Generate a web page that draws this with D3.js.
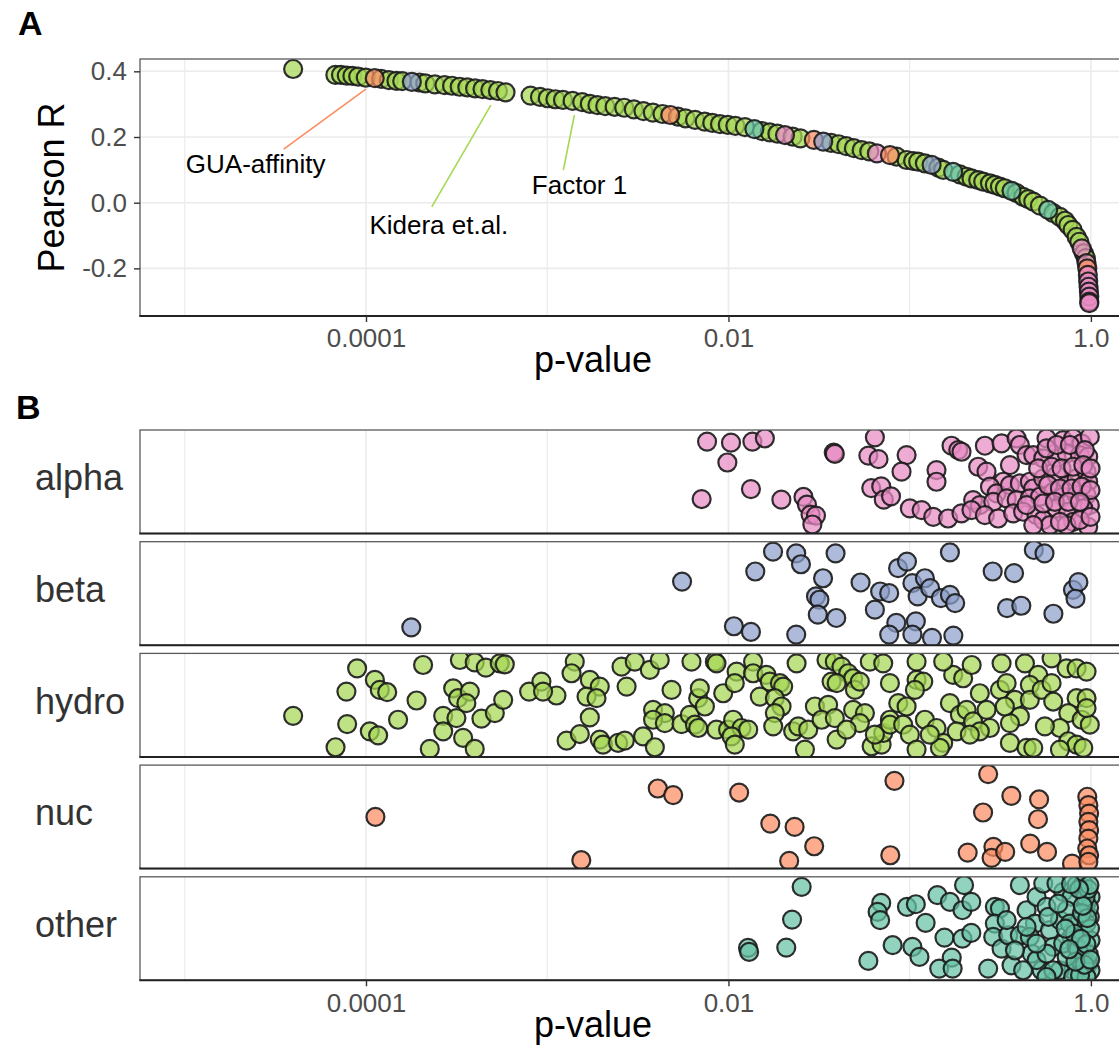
<!DOCTYPE html>
<html><head><meta charset="utf-8">
<script src="https://cdn.jsdelivr.net/npm/d3@7"></script>
<style>body{margin:0;background:#fff}svg{display:block}</style>
</head><body>
<svg id="c" width="1119" height="1049"></svg>
<script>
// ---------- data ----------
const categories = ["alpha", "beta", "hydro", "nuc", "other"];
const catColors = ["#E78AC3", "#8DA0CB", "#A6D854", "#FC8D62", "#66C2A5"];
const xTickValues = [1e-4, 1e-2, 1];
const xTickLabels = ["0.0001", "0.01", "1.0"];
const xMinorValues = [1e-5, 1e-3, 1e-1];
const yTickValues = [-0.2, 0, 0.2, 0.4];
const yTickLabels = ["-0.2", "0.0", "0.2", "0.4"];

// Panel A: [log10(p-value), Pearson R, category index]
const curvePts = [
[-4.402,0.407,2],[-4.169,0.389,2],[-4.138,0.389,2],[-4.106,0.387,2],[-4.075,0.386,2],[-4.043,0.384,2],
[-4.001,0.381,2],[-3.952,0.379,3],[-3.916,0.377,2],[-3.874,0.373,2],[-3.832,0.371,2],[-3.800,0.370,2],
[-3.747,0.368,1],[-3.705,0.366,2],[-3.673,0.363,2],[-3.620,0.360,2],[-3.567,0.358,2],[-3.525,0.356,2],
[-3.483,0.353,2],[-3.441,0.351,2],[-3.398,0.348,2],[-3.357,0.346,2],[-3.314,0.343,2],[-3.272,0.340,2],
[-3.230,0.336,2],[-3.092,0.326,2],[-3.040,0.322,2],[-2.997,0.318,2],[-2.955,0.315,2],[-2.913,0.313,2],
[-2.860,0.310,2],[-2.807,0.306,2],[-2.765,0.301,2],[-2.723,0.297,2],[-2.680,0.294,2],[-2.628,0.292,2],
[-2.575,0.289,2],[-2.522,0.284,2],[-2.469,0.279,2],[-2.417,0.274,2],[-2.364,0.270,2],[-2.321,0.267,3],
[-2.279,0.262,2],[-2.237,0.257,2],[-2.184,0.252,2],[-2.131,0.247,2],[-2.089,0.243,2],[-2.047,0.239,2],
[-2.004,0.237,2],[-1.962,0.234,2],[-1.909,0.230,2],[-1.857,0.224,4],[-1.815,0.218,2],[-1.772,0.214,2],
[-1.730,0.210,2],[-1.688,0.206,0],[-1.646,0.201,2],[-1.603,0.196,2],[-1.529,0.191,3],[-1.477,0.186,1],
[-1.434,0.182,2],[-1.392,0.178,2],[-1.350,0.172,2],[-1.308,0.166,2],[-1.265,0.160,2],[-1.223,0.156,2],
[-1.181,0.150,0],[-1.109,0.145,3],[-1.072,0.140,2],[-1.017,0.130,2],[-0.981,0.127,2],[-0.953,0.125,2],
[-0.916,0.120,2],[-0.879,0.115,1],[-0.842,0.107,2],[-0.815,0.100,2],[-0.760,0.094,4],[-0.723,0.086,2],
[-0.686,0.079,2],[-0.659,0.074,2],[-0.622,0.069,2],[-0.594,0.064,2],[-0.557,0.059,2],[-0.530,0.054,2],
[-0.502,0.049,2],[-0.475,0.044,2],[-0.438,0.036,4],[-0.410,0.029,2],[-0.374,0.018,2],[-0.346,0.011,2],
[-0.318,0.003,2],[-0.281,-0.009,2],[-0.236,-0.022,4],[-0.208,-0.032,2],[-0.171,-0.043,2],[-0.143,-0.055,2],
[-0.125,-0.068,2],[-0.101,-0.083,2],[-0.079,-0.104,2],[-0.064,-0.119,2],[-0.051,-0.139,0],[-0.039,-0.154,2],
[-0.028,-0.169,2],[-0.024,-0.184,0],[-0.020,-0.200,3],[-0.017,-0.220,0],[-0.015,-0.240,0],[-0.013,-0.256,0],
[-0.011,-0.271,0],[-0.009,-0.286,0],[-0.009,-0.301,0],[-0.009,-0.306,0]
];

// Panel A labels: [text, category, labelLogP, labelR, segStartLogP, segStartR, segEndLogP, segEndR]
const annotations = [
["GUA-affinity", 3, -4.994, 0.090, -4.454, 0.163, -4.001, 0.346],
["Kidera et.al.", 2, -3.981, -0.095, -3.637, -0.013, -3.311, 0.297],
["Factor 1", 2, -3.085, 0.026, -2.911, 0.0995, -2.850, 0.267]
];

// Panel B: per category [log10(p-value), vertical jitter 0..1]
const alphaPts = [
[-2.118,0.888],[-1.986,0.878],[-1.868,0.888],[-1.799,0.920],[-2.006,0.686],[-2.148,0.333],[-1.876,0.429],
[-1.708,0.327],[-1.586,0.353],[-1.567,0.279],[-1.547,0.183],[-1.517,0.173],[-1.537,0.087],[-1.419,0.782],
[-1.413,0.769],[-1.192,0.929],[-1.228,0.753],[-1.172,0.718],[-1.212,0.439],[-1.157,0.455],[-1.143,0.327],
[-1.103,0.359],[-1.017,0.758],[-1.045,0.597],[-0.769,0.848],[-0.732,0.806],[-0.714,0.790],[-0.852,0.613],
[-0.852,0.500],[-0.585,0.848],[-0.493,0.871],[-0.410,0.919],[-0.392,0.855],[-0.245,0.919],[-0.153,0.903],
[-0.098,0.919],[-0.052,0.871],[-0.006,0.935],[-0.622,0.645],[-0.576,0.597],[-0.447,0.661],[-0.484,0.500],
[-0.355,0.758],[-0.318,0.758],[-0.263,0.726],[-0.189,0.726],[-0.134,0.774],[-0.061,0.758],[-0.015,0.742],
[-0.557,0.452],[-0.520,0.387],[-0.447,0.468],[-0.392,0.484],[-0.337,0.500],[-0.318,0.435],[-0.263,0.532],
[-0.189,0.565],[-0.134,0.468],[-0.079,0.532],[-0.024,0.597],[-0.015,0.500],[-0.650,0.323],[-0.613,0.274],
[-0.539,0.306],[-0.465,0.339],[-0.410,0.323],[-0.337,0.339],[-0.281,0.355],[-0.208,0.403],[-0.153,0.355],
[-0.079,0.371],[-0.024,0.371],[-0.006,0.274],[-0.999,0.242],[-0.934,0.226],[-0.870,0.161],[-0.788,0.145],
[-0.714,0.194],[-0.659,0.226],[-0.585,0.177],[-0.512,0.145],[-0.429,0.194],[-0.374,0.210],[-0.300,0.177],
[-0.263,0.129],[-0.226,0.081],[-0.189,0.242],[-0.125,0.210],[-0.098,0.113],[-0.042,0.242],[-0.015,0.065],
[-0.134,0.081],
[-0.245,0.823],[-0.189,0.855],[-0.116,0.855],[-0.033,0.806],[-0.291,0.629],[-0.217,0.645],[-0.162,0.629],
[-0.098,0.645],[-0.042,0.661],[-0.002,0.629],[-0.236,0.468],[-0.171,0.435],[-0.107,0.435],[-0.051,0.452],
[-0.002,0.419],[-0.355,0.274],[-0.263,0.290],[-0.199,0.306],[-0.125,0.306],[-0.061,0.306],[-0.318,0.081],
[-0.171,0.113],[-0.061,0.129],[-0.002,0.161]
];
const betaPts = [
[-3.750,0.173],[-2.256,0.615],[-1.754,0.904],[-1.626,0.888],[-1.600,0.782],[-1.409,0.888],[-1.852,0.712],
[-1.478,0.647],[-1.517,0.471],[-1.498,0.439],[-1.507,0.295],[-1.405,0.263],[-1.970,0.183],[-1.876,0.128],
[-1.626,0.103],[-1.271,0.606],[-1.192,0.343],[-1.163,0.519],[-1.113,0.503],[-1.064,0.744],[-1.015,0.808],
[-0.985,0.599],[-0.956,0.471],[-0.916,0.647],[-0.887,0.551],[-0.828,0.455],[-0.778,0.487],[-0.749,0.407],
[-0.778,0.897],[-1.074,0.215],[-0.966,0.231],[-1.113,0.103],[-0.985,0.103],[-0.877,0.071],[-0.759,0.093],
[-0.542,0.712],[-0.424,0.696],[-0.463,0.359],[-0.384,0.381],[-0.315,0.920],[-0.256,0.888],[-0.207,0.304],
[-0.099,0.535],[-0.069,0.609],[-0.085,0.449]
];
const hydroPts = [
[-4.402,0.397],[-4.108,0.631],[-4.104,0.317],[-4.168,0.093],[-4.049,0.856],[-3.951,0.744],[-3.924,0.647],
[-3.883,0.625],[-3.979,0.247],[-3.933,0.208],[-3.823,0.359],[-3.721,0.545],[-3.685,0.888],[-3.648,0.077],
[-3.574,0.397],[-3.574,0.247],[-3.519,0.663],[-3.492,0.567],[-3.501,0.375],[-3.464,0.183],[-3.400,0.077],
[-3.482,0.936],[-3.400,0.913],[-3.339,0.862],[-3.262,0.904],[-3.234,0.894],[-3.427,0.631],[-3.446,0.519],
[-3.363,0.369],[-3.289,0.423],[-3.243,0.551],[-3.100,0.631],[-3.032,0.728],[-2.949,0.593],[-3.023,0.631],
[-2.848,0.920],[-2.866,0.808],[-2.765,0.744],[-2.710,0.679],[-2.783,0.583],[-2.728,0.567],[-2.765,0.381],
[-2.893,0.157],[-2.820,0.221],[-2.710,0.167],[-2.692,0.119],[-2.609,0.135],[-2.572,0.157],[-2.471,0.199],
[-2.406,0.093],[-2.590,0.872],[-2.517,0.920],[-2.434,0.840],[-2.379,0.936],[-2.204,0.920],[-2.562,0.679],
[-2.314,0.647],[-2.416,0.455],[-2.351,0.423],[-2.416,0.359],[-2.351,0.327],[-2.259,0.317],[-2.213,0.407],
[-2.185,0.311],[-2.167,0.567],[-2.158,0.663],
[-2.075,0.920],[-2.066,0.904],[-2.130,0.487],[-2.167,0.279],[-2.029,0.615],[-1.955,0.824],[-1.965,0.712],
[-1.864,0.920],[-1.864,0.808],[-1.790,0.792],[-1.772,0.728],[-1.716,0.712],[-1.698,0.679],[-1.827,0.583],
[-1.744,0.567],[-1.707,0.487],[-1.744,0.423],[-1.753,0.295],[-2.066,0.263],[-2.002,0.263],[-1.974,0.359],
[-1.928,0.279],[-1.891,0.263],[-1.983,0.199],[-1.965,0.119],[-1.643,0.247],[-1.615,0.295],[-1.560,0.263],
[-1.578,0.071],[-1.523,0.487],[-1.450,0.503],[-1.486,0.359],[-1.413,0.375],[-1.624,0.904],[-1.459,0.936],
[-1.413,0.920],[-1.376,0.872],[-1.339,0.808],[-1.312,0.760],[-1.302,0.647],[-1.275,0.728],[-1.431,0.728],
[-1.403,0.712],[-1.220,0.920],[-1.146,0.904],[-1.109,0.712],[-1.312,0.455],[-1.247,0.423],[-1.275,0.327],
[-1.403,0.167],[-1.210,0.103],[-1.155,0.119],[-1.146,0.231],[-1.109,0.359],[-1.063,0.519],[-1.017,0.487],
[-1.109,0.311],[-1.036,0.311],[-0.999,0.215],[-0.962,0.071],[-0.962,0.920],[-0.962,0.744],[-0.925,0.728],
[-0.971,0.647],[-0.916,0.359],[-0.852,0.279],[-0.815,0.135],[-0.833,0.087],[-0.760,0.792],[-0.705,0.760],
[-0.658,0.888],[-0.815,0.920],[-0.778,0.519],[-0.723,0.407],[-0.686,0.455],[-0.650,0.343],[-0.613,0.615],
[-0.576,0.455],[-0.557,0.279],[-0.502,0.647],[-0.493,0.904],[-0.465,0.712],[-0.419,0.551],[-0.392,0.391],
[-0.447,0.327],[-0.447,0.135],[-0.355,0.087],[-0.318,0.087],[-0.364,0.904],[-0.291,0.792],[-0.337,0.696],
[-0.337,0.551],[-0.272,0.647],[-0.217,0.712],[-0.217,0.952],[-0.134,0.856],[-0.079,0.856],[-0.024,0.824],
[-0.079,0.567],[-0.024,0.567],[-0.125,0.423],[-0.051,0.359],[-0.006,0.311],[-0.171,0.279],[-0.125,0.151],
[-0.079,0.119],[-0.042,0.087],[-0.171,0.071],[-0.024,0.471],[-0.254,0.295],[-0.208,0.535],[-0.475,0.487],
[-0.613,0.247],[-0.741,0.247],[-0.668,0.215],[-0.889,0.215],[-1.192,0.215],[-1.348,0.263]
];
const nucPts = [
[-3.948,0.500],[-2.812,0.081],[-2.390,0.774],[-2.305,0.710],[-1.941,0.735],[-1.769,0.435],[-1.635,0.403],
[-1.527,0.216],[-1.665,0.074],[-1.084,0.848],[-1.107,0.129],[-0.567,0.913],[-0.595,0.542],[-0.439,0.703],
[-0.286,0.668],[-0.292,0.477],[-0.335,0.242],[-0.242,0.161],[-0.680,0.155],[-0.538,0.210],[-0.548,0.103],
[-0.473,0.161],[-0.104,0.048],[-0.020,0.694],[-0.014,0.613],[-0.010,0.532],[-0.014,0.452],[-0.010,0.371],
[-0.014,0.290],[-0.020,0.194],[-0.010,0.129],[-0.014,0.065]
];
const otherPts = [
[-1.596,0.903],[-1.649,0.587],[-1.681,0.316],[-1.892,0.313],[-1.886,0.274],[-1.228,0.187],[-1.157,0.748],
[-1.177,0.661],[-1.163,0.581],[-1.094,0.339],[-0.985,0.323],[-0.946,0.226],[-1.015,0.710],[-0.966,0.735],
[-0.912,0.555],[-0.847,0.823],[-0.778,0.758],[-0.700,0.919],[-0.709,0.677],[-0.660,0.758],[-0.808,0.413],
[-0.709,0.403],[-0.660,0.458],[-0.768,0.219],[-0.837,0.113],[-0.763,0.113],[-0.567,0.113],
[-0.530,0.710],[-0.502,0.694],[-0.530,0.548],[-0.539,0.419],[-0.493,0.306],[-0.456,0.435],[-0.438,0.145],
[-0.392,0.919],[-0.355,0.677],[-0.392,0.435],[-0.327,0.258],[-0.300,0.806],[-0.309,0.548],[-0.263,0.935],
[-0.245,0.710],[-0.226,0.484],[-0.272,0.097],[-0.208,0.323],[-0.171,0.581],[-0.153,0.855],[-0.107,0.806],
[-0.134,0.677],[-0.107,0.419],[-0.079,0.919],[-0.042,0.871],[-0.024,0.742],[-0.061,0.581],[-0.042,0.452],
[-0.033,0.290],[-0.098,0.097],[-0.171,0.097],[-0.015,0.161],[-0.006,0.613],[-0.002,0.806],[-0.061,0.194],
[-0.134,0.226],[-0.208,0.097],[-0.337,0.419],[-0.300,0.194],[-0.245,0.258],[-0.042,0.935],[-0.153,0.355],
[-0.079,0.323],[-0.002,0.387],[-0.190,0.935],[-0.300,0.355],[-0.374,0.097],[-0.419,0.290],[-0.465,0.581],
[-0.355,0.516],[-0.235,0.613],[-0.116,0.548],[-0.024,0.548],[-0.002,0.097],[-0.098,0.032],[-0.245,0.032],
[-0.024,0.032],[-0.010,0.700],[-0.005,0.500],[-0.012,0.250],[-0.030,0.800],[-0.050,0.650],[-0.070,0.300],
[-0.015,0.880],[-0.090,0.450],[-0.060,0.050],[-0.035,0.150],
[-0.020,0.600],[-0.045,0.720],[-0.008,0.920],[-0.065,0.880],[-0.110,0.930],[-0.140,0.500],[-0.085,0.180],
[-0.025,0.350],[-0.055,0.400],[-0.180,0.740],[-0.120,0.300],[-0.004,0.200]
];
const facetData = [alphaPts, betaPts, hydroPts, nucPts, otherPts];

// ---------- layout ----------
const FONT = '"Liberation Sans", Arial, Helvetica, sans-serif';
const svg = d3.select("#c");
const pL = 140, pR = 1119;
const x = d3.scaleLog().domain([Math.pow(10, -5.247), Math.pow(10, 0.155)]).range([pL, pR]);
const aTop = 59, aBot = 316;
const yA = d3.scaleLinear().domain([-0.345, 0.4375]).range([aBot, aTop]);
const bTop = 430, bStep = 111.7, bH = 103.5;
const R = 9;
const px = l => x(Math.pow(10, l));

svg.append("rect").attr("width", 1119).attr("height", 1049).attr("fill", "#fff");
const defs = svg.append("defs");

function grid(g, top, bot, withY) {
  g.selectAll(".gxm").data(xMinorValues).join("line")
    .attr("x1", d => x(d)).attr("x2", d => x(d)).attr("y1", top).attr("y2", bot)
    .attr("stroke", "#EBEBEB").attr("stroke-width", 1.2);
  g.selectAll(".gxM").data(xTickValues).join("line")
    .attr("x1", d => x(d)).attr("x2", d => x(d)).attr("y1", top).attr("y2", bot)
    .attr("stroke", "#EBEBEB").attr("stroke-width", 1.6);
  if (withY) {
    g.selectAll(".gy").data(yTickValues).join("line")
      .attr("x1", pL).attr("x2", pR).attr("y1", d => yA(d)).attr("y2", d => yA(d))
      .attr("stroke", "#EBEBEB").attr("stroke-width", 1.6);
  }
}
function border(top, bot) {
  svg.append("rect").attr("x", pL).attr("y", top).attr("width", pR - pL + 6).attr("height", bot - top)
    .attr("fill", "none").attr("stroke", "#5a5a5a").attr("stroke-width", 1.3);
  svg.append("line").attr("x1", pL - 0.6).attr("x2", pR).attr("y1", bot).attr("y2", bot)
    .attr("stroke", "#222").attr("stroke-width", 2);
}
function xAxis(y0) {
  const g = svg.append("g").attr("transform", `translate(0,${y0})`)
    .call(d3.axisBottom(x).tickValues(xTickValues).tickFormat((d, i) => xTickLabels[i]).tickSize(6).tickPadding(7));
  g.select(".domain").remove();
  g.selectAll(".tick line").attr("stroke", "#333").attr("stroke-width", 1.4);
  g.selectAll(".tick text").attr("fill", "#4D4D4D").style("font-size", "26px").style("font-family", FONT);
}
function dots(g, data, cx, cy, col) {
  g.selectAll("circle").data(data).join("circle")
    .attr("cx", cx).attr("cy", cy).attr("r", R)
    .attr("fill", col).attr("fill-opacity", 0.72)
    .attr("stroke", "#1a1a1a").attr("stroke-opacity", 0.9).attr("stroke-width", 2.2);
}

// ---------- Panel A ----------
const gA = svg.append("g");
grid(gA, aTop, aBot, true);
defs.append("clipPath").attr("id", "clipA").append("rect")
  .attr("x", pL).attr("y", aTop).attr("width", pR - pL).attr("height", aBot - aTop);
const sortedCurve = curvePts.filter(d => d[2] === 2).concat(curvePts.filter(d => d[2] !== 2));
dots(gA.append("g").attr("clip-path", "url(#clipA)"), sortedCurve,
  d => px(d[0]), d => yA(d[1]), d => catColors[d[2]]);

annotations.forEach(a => {
  svg.append("line").attr("x1", px(a[4])).attr("y1", yA(a[5])).attr("x2", px(a[6])).attr("y2", yA(a[7]))
    .attr("stroke", catColors[a[1]]).attr("stroke-width", 1.6);
  svg.append("text").attr("x", px(a[2])).attr("y", yA(a[3])).text(a[0])
    .style("font-family", FONT).style("font-size", "26px").attr("fill", "#000");
});
border(aTop, aBot);
xAxis(aBot);
{
  const g = svg.append("g").attr("transform", `translate(${pL},0)`)
    .call(d3.axisLeft(yA).tickValues(yTickValues).tickFormat((d, i) => yTickLabels[i]).tickSize(6).tickPadding(7));
  g.select(".domain").remove();
  g.selectAll(".tick line").attr("stroke", "#333").attr("stroke-width", 1.4);
  g.selectAll(".tick text").attr("fill", "#4D4D4D").style("font-size", "26px").style("font-family", FONT);
}
svg.append("text").attr("transform", "translate(63.5,187.5) rotate(-90)").attr("text-anchor", "middle")
  .style("font-family", FONT).style("font-size", "36px").attr("fill", "#000").text("Pearson R");
svg.append("text").attr("x", 593).attr("y", 372).attr("text-anchor", "middle")
  .style("font-family", FONT).style("font-size", "36px").attr("fill", "#000").text("p-value");
svg.append("text").attr("x", 18).attr("y", 35)
  .style("font-family", FONT).style("font-size", "34px").style("font-weight", "bold").text("A");

// ---------- Panel B ----------
svg.append("text").attr("x", 16).attr("y", 419)
  .style("font-family", FONT).style("font-size", "34px").style("font-weight", "bold").text("B");
categories.forEach((cat, i) => {
  const top = bTop + i * bStep, bot = top + bH;
  const yB = d3.scaleLinear().domain([0, 1]).range([bot, top]);
  const g = svg.append("g");
  grid(g, top, bot, false);
  defs.append("clipPath").attr("id", "clipB" + i).append("rect")
    .attr("x", pL).attr("y", top).attr("width", pR - pL).attr("height", bH);
  dots(g.append("g").attr("clip-path", `url(#clipB${i})`), facetData[i],
    d => px(d[0]), d => yB(d[1]), catColors[i]);
  border(top, bot);
  svg.append("text").attr("x", 35).attr("y", (top + bot) / 2).attr("dy", "0.24em")
    .style("font-family", FONT).style("font-size", "36px").attr("fill", "#333").text(cat);
});
const bLast = bTop + 4 * bStep + bH;
xAxis(bLast);
svg.append("text").attr("x", 593).attr("y", 1037).attr("text-anchor", "middle")
  .style("font-family", FONT).style("font-size", "36px").attr("fill", "#000").text("p-value");
</script>
</body></html>
